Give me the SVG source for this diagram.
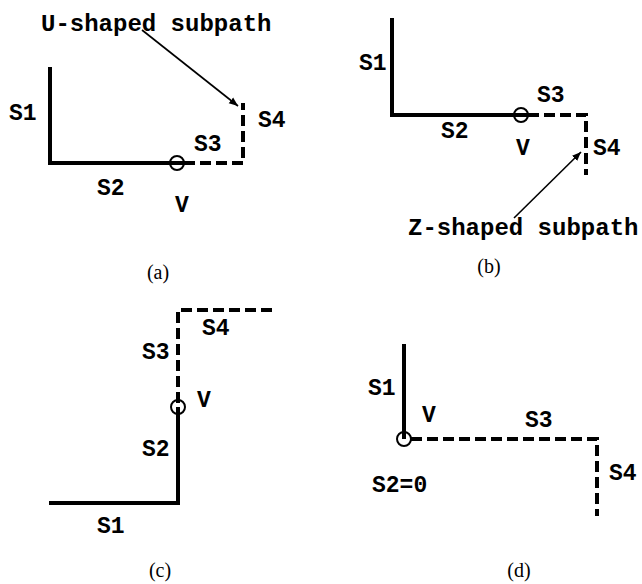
<svg xmlns="http://www.w3.org/2000/svg" width="642" height="584" viewBox="0 0 642 584">
<style>
.s{stroke:#000;stroke-width:4;fill:none;stroke-linecap:butt}
.d{stroke:#000;stroke-width:4;fill:none;stroke-dasharray:11,5}
.c{stroke:#000;stroke-width:2;fill:none}
.a{stroke:#000;stroke-width:1.6;fill:none}
.t{font-family:"Liberation Mono","Courier New",monospace;font-weight:bold;font-size:23px;fill:#000}
.cap{font-family:"Liberation Serif","Times New Roman",serif;font-size:20px;fill:#000;text-anchor:middle}
</style>
<defs>
<marker id="ah" viewBox="0 0 10 10" refX="10" refY="5" markerWidth="9" markerHeight="9" markerUnits="userSpaceOnUse" orient="auto">
<path d="M0,1 L10,5 L0,9 z" fill="#000"/>
</marker>
</defs>
<rect width="642" height="584" fill="#fff"/>

<g id="panel-a">
<path class="s" d="M50,67 V163 H184"/>
<path class="d" d="M184,163 H243 V103"/>
<circle class="c" cx="177" cy="163" r="7"/>
<text class="t" x="9" y="120">S1</text>
<text class="t" x="97" y="195">S2</text>
<text class="t" x="194" y="151">S3</text>
<text class="t" x="258" y="127">S4</text>
<text class="t" x="175" y="212">V</text>
<text class="t" x="41" y="31" style="font-size:24px">U-shaped subpath</text>
<text class="cap" x="158" y="279">(a)</text>
</g>

<g id="panel-b">
<path class="s" d="M392,18 V115 H528"/>
<path class="d" d="M528,115 H586 V175"/>
<circle class="c" cx="521" cy="115" r="7"/>
<text class="t" x="359" y="70">S1</text>
<text class="t" x="441" y="138">S2</text>
<text class="t" x="537" y="102">S3</text>
<text class="t" x="593" y="155">S4</text>
<text class="t" x="516" y="155">V</text>
<text class="t" x="408" y="235" style="font-size:24px">Z-shaped subpath</text>
<text class="cap" x="489" y="273">(b)</text>
</g>

<g id="panel-c">
<path class="s" d="M49,503 H178 V407"/>
<path class="d" d="M178,403 V310 H275"/>
<circle class="c" cx="178" cy="407" r="7"/>
<text class="t" x="97" y="533">S1</text>
<text class="t" x="142" y="456">S2</text>
<text class="t" x="142" y="359">S3</text>
<text class="t" x="202" y="335">S4</text>
<text class="t" x="197" y="407">V</text>
<text class="cap" x="160" y="577">(c)</text>
</g>

<g id="panel-d">
<path class="s" d="M404,344 V439"/>
<path class="d" d="M411,439 H597 V516"/>
<circle class="c" cx="404" cy="439" r="7"/>
<text class="t" x="368" y="395">S1</text>
<text class="t" x="422" y="422">V</text>
<text class="t" x="525" y="427">S3</text>
<text class="t" x="609" y="480">S4</text>
<text class="t" x="372" y="492">S2=0</text>
<text class="cap" x="519" y="577">(d)</text>
</g>

<g id="connectors">
<line class="a" x1="142" y1="30" x2="238" y2="106" marker-end="url(#ah)"/>
<line class="a" x1="514" y1="218" x2="581" y2="152" marker-end="url(#ah)"/>
</g>
</svg>
